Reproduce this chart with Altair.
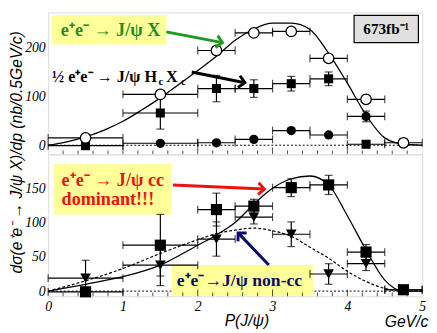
import altair as alt
import pandas as pd

# ---------------- data ----------------
bin_center = [0.5, 1.5, 2.25, 2.75, 3.25, 3.75, 4.25, 4.75]
bin_lo = [0.0, 1.0, 2.0, 2.5, 3.0, 3.5, 4.0, 4.5]
bin_hi = [1.0, 2.0, 2.5, 3.0, 3.5, 4.0, 4.5, 5.0]

# top panel: e+e- -> J/psi X (open circles)
jpsiX_idx = [0, 1, 2, 3, 4, 5, 6, 7]
jpsiX_y = [15, 104, 194, 230, 233, 178, 94, 5]
jpsiX_err = [5, 7, 6, 6, 6, 6, 6, 4]
# 1/2 e+e- -> J/psi Hc Xc (filled squares)
hcxc_idx = [0, 1, 2, 3, 4, 5, 6]
hcxc_y = [-1, 66, 116, 116, 126, 136, 2]
hcxc_err = [4, 33, 27, 18, 15, 14, 4]
# filled circles
dot_idx = [1, 2, 3, 4, 5, 6]
dot_y = [4, 5, 12, 30, 21, 59]
dot_err = [2, 2, 3, 4, 4, 11]
# fit curve, top panel
top_fit_x = [0, 0.25, 0.5, 0.75, 1.0, 1.25, 1.5, 1.75, 2.0, 2.25, 2.5, 2.75, 3.0, 3.25, 3.5, 3.75, 4.0, 4.25, 4.5, 4.75, 5.0]
top_fit_y = [0, 7, 17, 31, 49, 72, 97, 125, 153, 182, 215, 238, 250, 250, 237, 188, 127, 62, 15, 2, 0]

# bottom panel: J/psi cc (squares) and non-cc (triangles)
cc_idx = [0, 1, 2, 3, 4, 5, 6, 7]
cc_y = [-1, 67, 119, 124, 151, 155, 57, 2]
cc_err = [3, 45, 24, 10, 13, 14, 11, 5]
noncc_idx = [0, 1, 2, 3, 4, 5, 6, 7]
noncc_y = [19, 38, 76, 108, 83, 25, 40, 2]
noncc_err = [26, 30, 25, 10, 18, 15, 10, 3]
bot_fit_x = [0, 0.5, 1.0, 1.5, 2.0, 2.25, 2.5, 2.75, 3.0, 3.25, 3.5, 3.75, 4.0, 4.25, 4.5, 4.75, 5.0]
cc_fit_y = [0, 10, 21, 38, 67, 82, 100, 127, 150, 164, 168, 155, 110, 60, 16, 0, 0]
noncc_fit_y = [0, 15, 33, 55, 75, 84, 89, 92, 88, 80, 64, 48, 29, 14, 4, 0, 0]

# axis ticks
x_labels = [0, 1, 2, 3, 4, 5]
top_y_labels = [0, 100, 200]
bot_y_labels = [0, 50, 100, 150]
minor_ticks = [0.2, 0.4, 0.6, 0.8, 1.2, 1.4, 1.6, 1.8, 2.2, 2.4, 2.6, 2.8,
               3.2, 3.4, 3.6, 3.8, 4.2, 4.4, 4.6, 4.8]
major_ticks = [1, 2, 3, 4]

W, H = 382, 145
SERIF = "Liberation Serif"
SANS = "Liberation Sans"
YELLOW = "#ffff99"

XS = alt.Scale(domain=[0, 5], nice=False, zero=False)
YS_TOP = alt.Scale(domain=[-18.7, 272], nice=False, zero=False)
YS_BOT = alt.Scale(domain=[-7.6, 199.6], nice=False, zero=False)


def series(idx, y, err):
    return pd.DataFrame({
        "x": [bin_center[i] for i in idx],
        "lo": [bin_lo[i] for i in idx],
        "hi": [bin_hi[i] for i in idx],
        "y": y,
        "ylo": [v - e for v, e in zip(y, err)],
        "yhi": [v + e for v, e in zip(y, err)],
    })


def make_enc(show_x, ys, yvals):
    xaxis = alt.Axis(values=x_labels, title=None, labelFont=SERIF, labelFontStyle="italic",
                     labelFontSize=14, labelColor="black", ticks=False, domain=False,
                     grid=False, labelPadding=3, labelFlush=False) if show_x else None
    yaxis = alt.Axis(values=yvals, title=None, labelFont=SERIF, labelFontStyle="italic",
                     labelFontSize=14, labelColor="black", ticks=False, domain=False,
                     grid=False, labelPadding=3)

    def X(f):
        return alt.X(f, type="quantitative", scale=XS, axis=xaxis)

    def Y(f):
        return alt.Y(f, type="quantitative", scale=ys, axis=yaxis)
    return X, Y


def err_layers(df, X, Y):
    base = alt.Chart(df)
    hbar = base.mark_rule(color="black", strokeWidth=1.2).encode(x=X("lo"), x2="hi:Q", y=Y("y"))
    hcap = base.transform_fold(["lo", "hi"], as_=["k", "xe"]).mark_tick(
        orient="vertical", size=8, thickness=1.2, color="black").encode(x=X("xe"), y=Y("y"))
    vbar = base.mark_rule(color="black", strokeWidth=1.2).encode(x=X("x"), y=Y("ylo"), y2="yhi:Q")
    vcap = base.transform_fold(["ylo", "yhi"], as_=["k", "ye"]).mark_tick(
        orient="horizontal", size=8, thickness=1.2, color="black").encode(x=X("x"), y=Y("ye"))
    return [hbar, hcap, vbar, vcap]


def tick_layers(X):
    mn = alt.Chart(pd.DataFrame({"t": minor_ticks})).mark_tick(
        orient="vertical", size=8, thickness=1, color="black", clip=True).encode(x=X("t"), y=alt.value(H))
    mj = alt.Chart(pd.DataFrame({"t": major_ticks})).mark_tick(
        orient="vertical", size=14, thickness=1, color="black", clip=True).encode(x=X("t"), y=alt.value(H))
    return [mn, mj]


def box(X, Y, x1, x2, y1, y2, fill, stroke=None):
    df = pd.DataFrame({"x1": [x1], "x2": [x2], "y1": [y1], "y2": [y2]})
    kw = dict(fill=fill, clip=True)
    if stroke:
        kw.update(stroke=stroke, strokeWidth=1.2)
    return alt.Chart(df).mark_rect(**kw).encode(x=X("x1"), x2="x2:Q", y=Y("y1"), y2="y2:Q")


def label(X, Y, text, x, y, color, size, align="left", weight="bold", font=SERIF, dy=0):
    df = pd.DataFrame({"x": [x], "y": [y], "t": [text]})
    return alt.Chart(df).mark_text(align=align, baseline="middle", font=font, fontWeight=weight,
                                   fontSize=size, color=color, dy=dy).encode(
        x=X("x"), y=Y("y"), text="t:N")


def arrow(X, Y, x1, y1, x2, y2, color, angle):
    df = pd.DataFrame({"x1": [x1], "y1": [y1], "x2": [x2], "y2": [y2]})
    line = alt.Chart(df).mark_rule(color=color, strokeWidth=3).encode(
        x=X("x1"), y=Y("y1"), x2="x2:Q", y2="y2:Q")
    head = alt.Chart(df).mark_point(shape="M-1,-1L0,0L-1,1", size=150, filled=False,
                                    stroke=color, strokeWidth=3, angle=angle, opacity=1).encode(
        x=X("x2"), y=Y("y2"))
    return [line, head]


# ---------------- top panel ----------------
Xt, Yt = make_enc(False, YS_TOP, top_y_labels)
zero_top = alt.Chart(pd.DataFrame({"y": [0]})).mark_rule(
    color="black", strokeDash=[2, 2], strokeWidth=1).encode(y=Yt("y"))
fit_top = alt.Chart(pd.DataFrame({"x": top_fit_x, "y": top_fit_y})).mark_line(
    color="black", strokeWidth=1.3, interpolate="monotone").encode(x=Xt("x"), y=Yt("y"))

s_open = series(jpsiX_idx, jpsiX_y, jpsiX_err)
s_sq = series(hcxc_idx, hcxc_y, hcxc_err)
s_dot = series(dot_idx, dot_y, dot_err)

pts_open = alt.Chart(s_open).mark_point(shape="circle", filled=True, fill="white", stroke="black",
                                         strokeWidth=1.3, size=115, opacity=1).encode(x=Xt("x"), y=Yt("y"))
pts_sq = alt.Chart(s_sq).mark_point(shape="square", filled=True, color="black", size=85,
                                     opacity=1).encode(x=Xt("x"), y=Yt("y"))
pts_dot = alt.Chart(s_dot).mark_point(shape="circle", filled=True, color="black", size=90,
                                       opacity=1).encode(x=Xt("x"), y=Yt("y"))

ytitle = alt.Chart(pd.DataFrame({"t": ["dσ(e⁺e⁻ → J/ψ X)/dp (nb/0.5GeV/c)"]})).mark_text(
    angle=270, font=SANS, fontStyle="italic", fontSize=16, color="black", align="center",
    baseline="middle").encode(x=alt.value(-32), y=alt.value(143), text="t:N")

top_layers = (
    [box(Xt, Yt, 0.05, 1.58, 266, 206, YELLOW),
     box(Xt, Yt, 4.09, 4.95, 266, 210, "#e0e0e0", "black"),
     zero_top, fit_top]
    + tick_layers(Xt)
    + err_layers(s_open, Xt, Yt) + err_layers(s_sq, Xt, Yt) + err_layers(s_dot, Xt, Yt)
    + [pts_sq, pts_dot, pts_open]
    + [label(Xt, Yt, "e⁺e⁻ → J/ψ X", 0.17, 236, "#1f8f1f", 18.5),
       label(Xt, Yt, "½ e⁺e⁻ → J/ψ H", 0.052, 140, "black", 16.5),
       label(Xt, Yt, "c", 1.475, 140, "black", 11, dy=5),
       label(Xt, Yt, "X", 1.575, 140, "black", 16.5),
       label(Xt, Yt, "c", 1.775, 140, "black", 11, dy=5),
       label(Xt, Yt, "673fb⁻¹", 4.52, 238, "black", 15.5, align="center")]
    + arrow(Xt, Yt, 1.58, 232, 2.33, 210, "#1f9a1f", 11)
    + arrow(Xt, Yt, 1.92, 150, 2.63, 128, "black", 10)
    + [ytitle]
)
top = alt.layer(*top_layers).properties(width=W, height=H)

# ---------------- bottom panel ----------------
Xb, Yb = make_enc(True, YS_BOT, bot_y_labels)
zero_bot = alt.Chart(pd.DataFrame({"y": [0]})).mark_rule(
    color="black", strokeDash=[2, 2], strokeWidth=1).encode(y=Yb("y"))
fit_cc = alt.Chart(pd.DataFrame({"x": bot_fit_x, "y": cc_fit_y})).mark_line(
    color="black", strokeWidth=1.3, interpolate="monotone").encode(x=Xb("x"), y=Yb("y"))
fit_non = alt.Chart(pd.DataFrame({"x": bot_fit_x, "y": noncc_fit_y})).mark_line(
    color="black", strokeWidth=1.2, strokeDash=[3, 2], interpolate="monotone").encode(x=Xb("x"), y=Yb("y"))

s_cc = series(cc_idx, cc_y, cc_err)
s_non = series(noncc_idx, noncc_y, noncc_err)
pts_cc = alt.Chart(s_cc).mark_point(shape="square", filled=True, color="black", size=130,
                                     opacity=1).encode(x=Xb("x"), y=Yb("y"))
pts_non = alt.Chart(s_non).mark_point(shape="triangle-down", filled=True, color="black", size=120,
                                       opacity=1).encode(x=Xb("x"), y=Yb("y"))

xt1 = alt.Chart(pd.DataFrame({"t": ["P(J/ψ)"]})).mark_text(
    font=SANS, fontStyle="italic", fontSize=16, color="black", align="center", baseline="middle").encode(
    x=alt.value(203), y=alt.value(170), text="t:N")
xt2 = alt.Chart(pd.DataFrame({"t": ["GeV/c"]})).mark_text(
    font=SANS, fontStyle="italic", fontSize=16, color="black", align="center", baseline="middle").encode(
    x=alt.value(366), y=alt.value(171), text="t:N")

bot_layers = (
    [zero_bot, fit_cc, fit_non,
     box(Xb, Yb, 0.08, 1.65, 186, 112, YELLOW),
     box(Xb, Yb, 1.65, 3.54, 38, -7.6, YELLOW)]
    + tick_layers(Xb)
    + err_layers(s_cc, Xb, Yb) + err_layers(s_non, Xb, Yb)
    + [pts_cc, pts_non]
    + [label(Xb, Yb, "e⁺e⁻ → J/ψ cc", 0.18, 162, "#ee1111", 18.5),
       label(Xb, Yb, "dominant!!!", 0.18, 134, "#ee1111", 18.5),
       label(Xb, Yb, "e⁺e⁻→J/ψ non-cc", 1.72, 14, "#0c0c6e", 18)]
    + arrow(Xb, Yb, 1.67, 155, 2.89, 149, "#ee1111", 3)
    + arrow(Xb, Yb, 2.95, 38, 2.54, 85, "#0c0c6e", 226)
    + [xt1, xt2]
)
bottom = alt.layer(*bot_layers).properties(width=W, height=H)

chart = alt.vconcat(top, bottom, spacing=0, bounds="flush").properties(
    padding=0
).configure_view(stroke="black", strokeWidth=1.3).configure(background="white")

chart.save("out.html", embed_options={"renderer": "svg", "actions": False})
